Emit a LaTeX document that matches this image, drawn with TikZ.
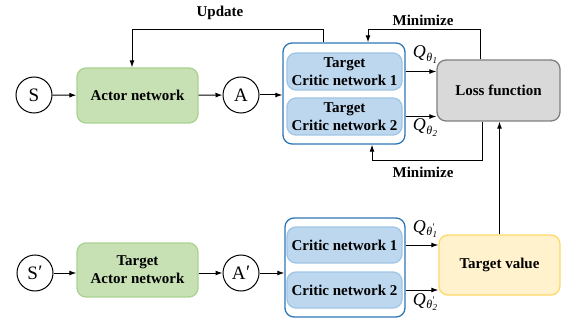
\documentclass[tikz,border=0pt]{standalone}
\usepackage{fontspec}
\setmainfont{Liberation Serif}
\usetikzlibrary{arrows.meta}
\definecolor{gfill}{RGB}{199,225,181}
\definecolor{gline}{RGB}{170,210,145}
\definecolor{bfill}{RGB}{189,215,238}
\definecolor{bline}{RGB}{160,198,230}
\definecolor{oline}{RGB}{46,117,182}
\definecolor{lfill}{RGB}{217,217,217}
\definecolor{lline}{RGB}{127,127,127}
\definecolor{yfill}{RGB}{255,242,204}
\definecolor{yline}{RGB}{255,217,102}
\newcommand{\qlabel}[2]{\textit{Q}\kern0.5pt\raisebox{-0.45ex}{\fontsize{12}{12}\selectfont\textit{θ}#2\kern0.3pt\raisebox{-0.4ex}{\fontsize{9}{9}\selectfont\textit{#1}}}}
\newcommand{\pr}{\rlap{\raisebox{0.9ex}{\fontsize{10}{10}\selectfont\kern0.2pt ′}}}
\begin{document}
\begin{tikzpicture}[x=1pt,y=-1pt,
  txt/.style={font=\fontsize{15}{18}\selectfont\bfseries, align=center},
  box/.style={txt, rounded corners=9pt, line width=1.3pt, inner sep=0pt},
  greenbox/.style={box, draw=gline, fill=gfill, minimum width=121pt, minimum height=55pt},
  innerbox/.style={box, draw=bline, fill=bfill, minimum width=115pt, minimum height=37pt},
  outerbox/.style={rounded corners=9pt, draw=oline, line width=1.3pt, fill=white, minimum width=122pt, minimum height=101pt, inner sep=0pt},
  var/.style={circle, draw, line width=1pt, minimum size=36pt, inner sep=0pt, font=\fontsize{19}{20}\selectfont},
  qlab/.style={font=\fontsize{18}{20}\selectfont},
  arr/.style={-{Latex[length=7pt,width=5pt]}, line width=1pt},
  lbl/.style={txt}]
\useasboundingbox (0,0) rectangle (569,323);
% top row
\node[var] (S) at (34,95) {S};
\node[greenbox] (actor) at (137.5,95.5) {Actor network};
\node[var] (A) at (241,95) {A};
\node[outerbox] (out1) at (344,93.5) {};
\node[innerbox] (c1) at (344.5,71.5) {Target\\Critic network 1};
\node[innerbox] (c2) at (344.5,116.5) {Target\\Critic network 2};
\node[box, draw=lline, fill=lfill, minimum width=123pt, minimum height=61pt] (loss) at (498.5,90.5) {Loss function};
% bottom row
\node[var] (S2) at (35,273) {S\kern0.5pt\raisebox{0.1ex}{′}};
\node[greenbox, minimum height=54pt] (tactor) at (137.5,270) {Target\\Actor network};
\node[var] (A2) at (241,273) {A\kern0.5pt\raisebox{0.1ex}{′}};
\node[outerbox, minimum width=120pt, minimum height=99pt] (out2) at (345,267.5) {};
\node[innerbox, minimum height=36pt] (d1) at (344.5,245) {Critic network 1};
\node[innerbox, minimum height=36pt] (d2) at (344.5,290) {Critic network 2};
\node[box, draw=yline, fill=yfill, minimum width=121pt, minimum height=60pt] (tv) at (499.5,265) {Target value};
% arrows
\draw[arr] (S) -- (actor);
\draw[arr] (actor) -- (A);
\draw[arr] (A) -- (A -| out1.west);
\draw[arr] (S2) -- (S2 -| tactor.west);
\draw[arr] (tactor.east |- A2) -- (A2);
\draw[arr] (A2) -- (A2 -| out2.west);
\draw[arr] (out1.east |- c1) -- (loss.west |- c1);
\draw[arr] (out1.east |- c2) -- (loss.west |- c2);
\draw[arr] (out2.east |- d1) -- (tv.west |- d1);
\draw[arr] (out2.east |- d2) -- (tv.west |- d2);
\draw[arr] (tv.north) -- (tv.north |- loss.south);
\draw[arr] ([xshift=-21pt]out1.north) -- ++(0,-13) -| ([xshift=-5.5pt]actor.north);
\draw[arr] ([xshift=-18.5pt]loss.north) -- ++(0,-30) -| ([xshift=24pt]out1.north);
\draw[arr] ([xshift=-16.5pt]loss.south) -- ++(0,39) -| ([xshift=28pt]out1.south);
% labels
\node[lbl] (lupd) at (220,13) {Update};
\node[lbl] (lmin1) at (423,20) {Minimize};
\node[lbl] (lmin2) at (423,172) {Minimize};
\node[qlab] (q1) at (425,55) {\qlabel{1}{}};
\node[qlab] (q2) at (425,128) {\qlabel{2}{}};
\node[qlab] (q3) at (425,229) {\qlabel{1}{\pr}};
\node[qlab] (q4) at (425,302) {\qlabel{2}{\pr}};
\end{tikzpicture}
\end{document}
